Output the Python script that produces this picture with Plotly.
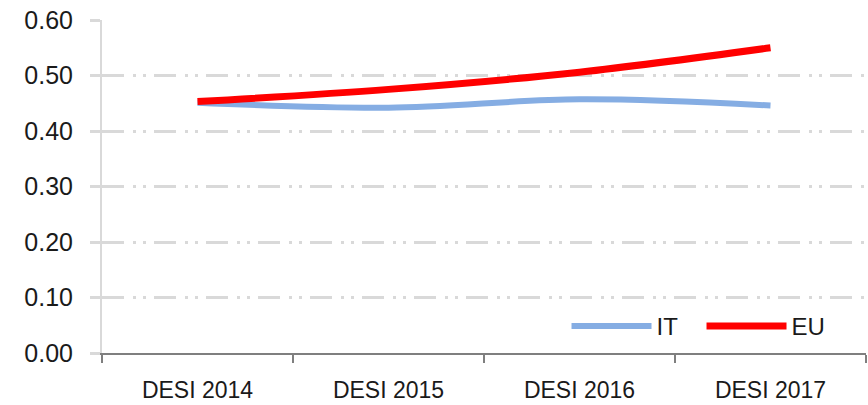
import plotly.graph_objects as go

categories = ["DESI 2014", "DESI 2015", "DESI 2016", "DESI 2017"]
it_values = [0.451, 0.442, 0.457, 0.446]
eu_values = [0.453, 0.475, 0.506, 0.550]
y_ticks = [0.0, 0.1, 0.2, 0.3, 0.4, 0.5, 0.6]
y_tick_labels = ["0.00", "0.10", "0.20", "0.30", "0.40", "0.50", "0.60"]

font_family = "Liberation Sans, Arial, sans-serif"

fig = go.Figure()
fig.add_trace(go.Scatter(x=categories, y=it_values, name="IT", mode="lines",
                         line=dict(color="#85ADE3", width=6, shape="spline")))
fig.add_trace(go.Scatter(x=categories, y=eu_values, name="EU", mode="lines",
                         line=dict(color="#FF0000", width=7, shape="spline")))

fig.update_layout(
    width=868, height=405,
    margin=dict(l=102, r=2, t=20, b=52, autoexpand=False),
    paper_bgcolor="white", plot_bgcolor="white",
    font=dict(family=font_family, color="#1a1a1a"),
    showlegend=True,
    legend=dict(orientation="h", x=0.608, y=0.08, xanchor="left", yanchor="middle",
                font=dict(size=24, color="#1a1a1a"), itemwidth=80,
                entrywidth=40, entrywidthmode="pixels",
                bgcolor="rgba(0,0,0,0)", tracegroupgap=0),
    xaxis=dict(type="category", range=[-0.5, 3.5], showgrid=False, automargin=False,
               showline=True, linecolor="#7f7f7f", linewidth=2,
               ticks="outside", tickson="boundaries", ticklen=8,
               tickcolor="#7f7f7f", tickwidth=2, ticklabelstandoff=15,
               tickfont=dict(size=23, color="#1a1a1a"), zeroline=False),
    yaxis=dict(range=[0, 0.6], tickvals=y_ticks, ticktext=y_tick_labels, automargin=False,
               showgrid=True, gridcolor="#d9d9d9", gridwidth=3,
               griddash="22px,9px,3px,7px,3px,8px",
               showline=True, linecolor="#d9d9d9", linewidth=2,
               ticks="outside", ticklen=10, tickcolor="#d9d9d9", tickwidth=3,
               ticklabelstandoff=12,
               tickfont=dict(size=25, color="#1a1a1a"), zeroline=False),
)

fig.write_html("out.html", config={"displayModeBar": False},
               post_script="document.body.style.margin='0';document.body.style.overflow='hidden';")
